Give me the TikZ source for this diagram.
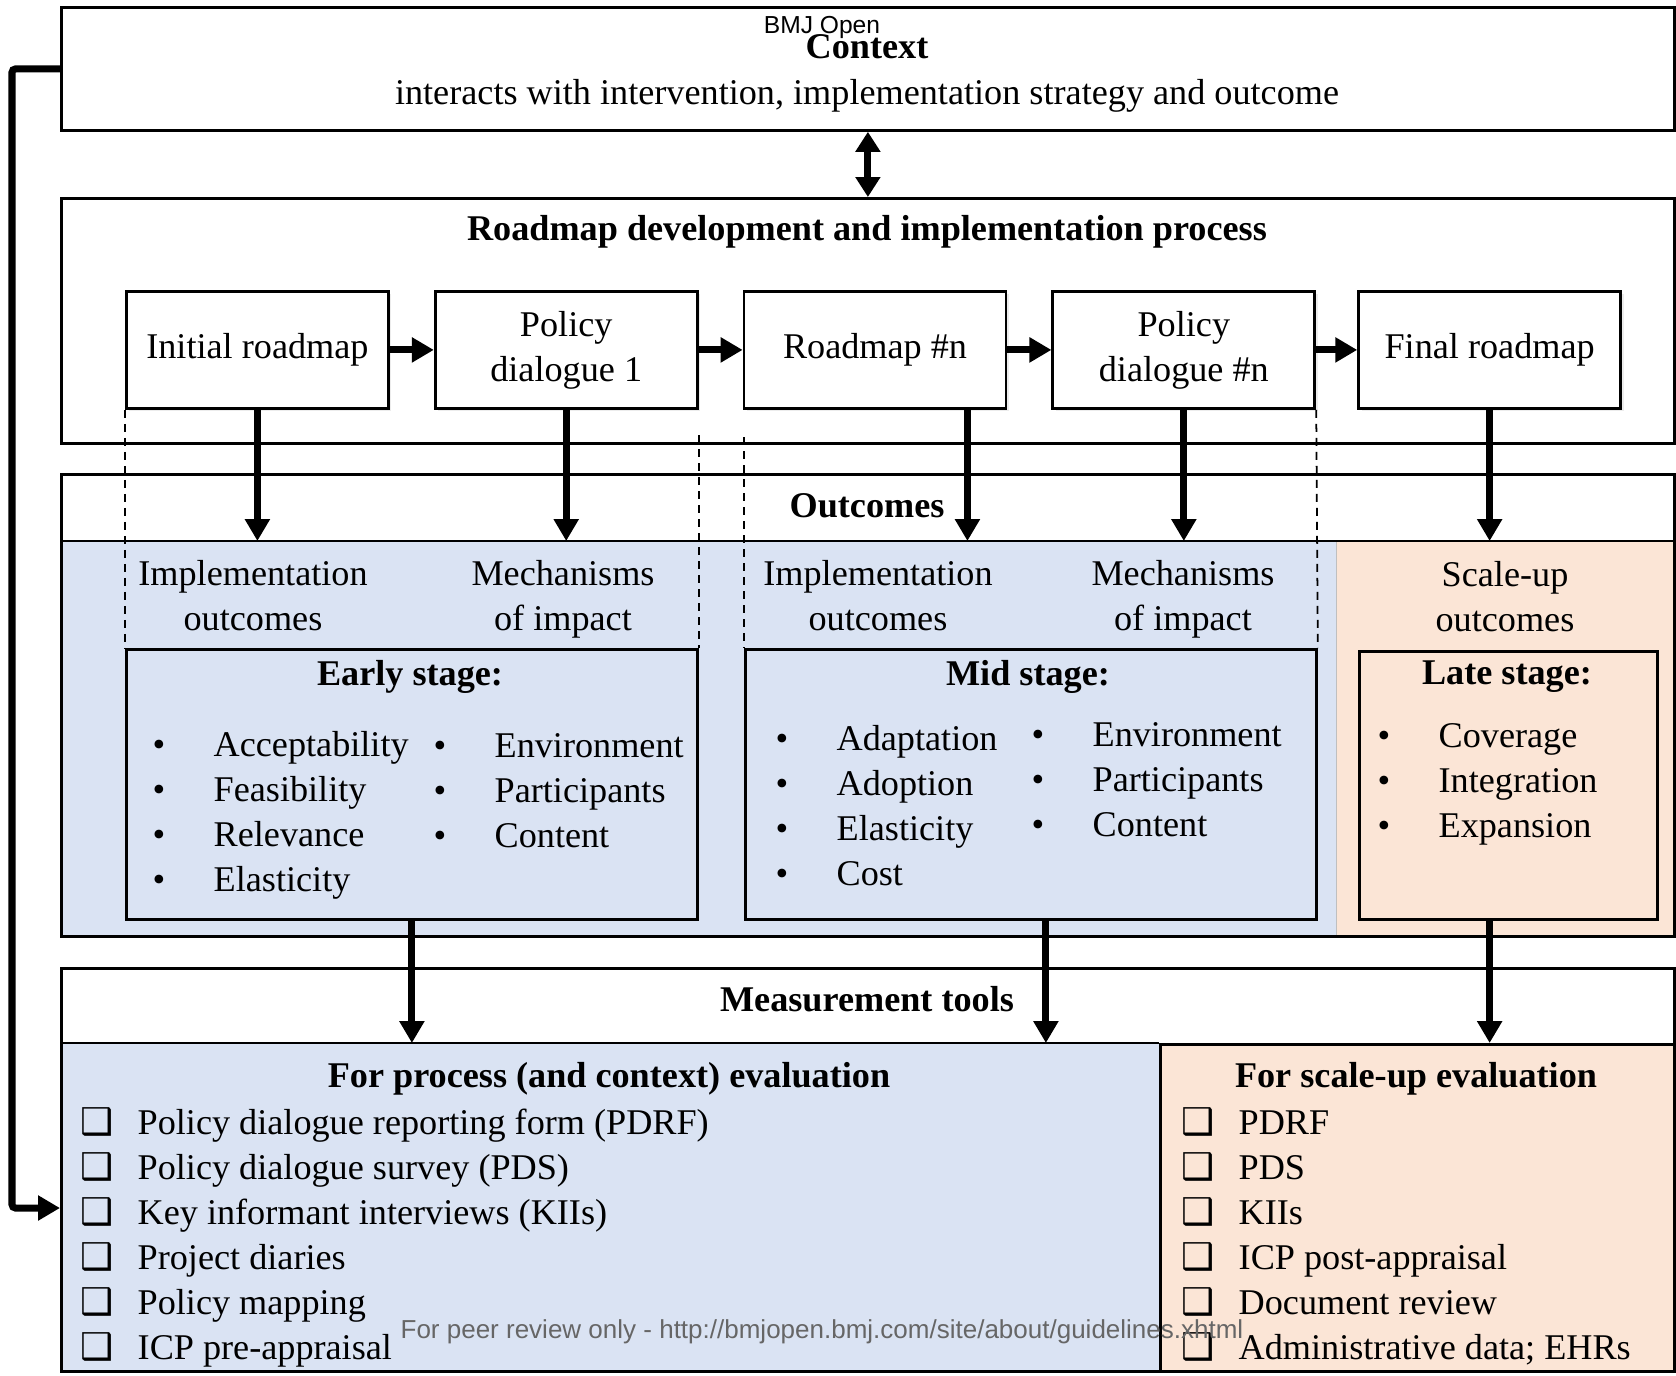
\documentclass[tikz,border=0pt]{standalone}
\usepackage{fontspec}
\setmainfont{Liberation Serif}
\newfontfamily\symfont{DejaVu Sans}
\newfontfamily\markfont{Liberation Sans}
\usepackage{xcolor}
\usetikzlibrary{arrows.meta,positioning,shadows}
\definecolor{outblue}{HTML}{DAE3F3}
\definecolor{outpeach}{HTML}{FBE5D6}
\newcommand{\bul}{\makebox[0.61cm][l]{•}}
\newcommand{\chk}{\makebox[0.57cm][l]{\symfont\fontsize{10.5}{12.8}\selectfont ❑}}

\begin{document}
\begin{tikzpicture}[font=\fontsize{10.3}{12.8}\selectfont,
frame/.style={draw,line width=0.8pt,inner sep=0pt,anchor=north west},
stepbox/.style={draw,line width=0.8pt,fill=white,minimum width=2.62cm,minimum height=1.17cm,align=center,inner sep=1pt,
  drop shadow={opacity=0.15,shadow xshift=0.03cm,shadow yshift=-0.03cm}},
head/.style={font=\fontsize{10.3}{12.8}\selectfont\bfseries},
fat/.style={line width=2pt,-{Triangle[length=0.22cm,width=0.24cm]}},
dbl/.style={line width=2pt,{Triangle[length=0.2cm,width=0.24cm]}-{Triangle[length=0.2cm,width=0.24cm]}},
guide/.style={line width=0.5pt,dash pattern=on 0.08cm off 0.06cm},
list/.style={align=left,inner sep=0pt,anchor=north west}]
\useasboundingbox (0,0) rectangle (16.76,-13.76);
\node[frame,minimum width=16.13cm,minimum height=1.23cm] (context) at (0.60,-0.06) {};
\node[frame,minimum width=16.13cm,minimum height=2.45cm] (process) at (0.60,-1.97) {};
\node[frame,fill=outblue,draw=none,minimum width=12.76cm,minimum height=3.94cm] (oblue) at (0.60,-5.41) {};
\node[frame,fill=outpeach,draw=gray!50,line width=0.4pt,minimum width=3.37cm,minimum height=3.94cm] (opeach) at (13.36,-5.41) {};
\node[frame,minimum width=16.13cm,minimum height=4.62cm] (outcomes) at (0.60,-4.73) {};
\draw[line width=0.8pt] (oblue.north west) -- (opeach.north east);
\node[frame,fill=outblue,draw=none,minimum width=10.99cm,minimum height=3.27cm] (mblue) at (0.60,-10.43) {};
\node[frame,fill=outpeach,minimum width=5.14cm,minimum height=3.27cm] (mpeach) at (11.59,-10.43) {};
\node[frame,minimum width=16.13cm,minimum height=4.03cm] (measure) at (0.60,-9.67) {};
\draw[line width=0.8pt] (mblue.north west) -- (mpeach.north west);
\node[frame,minimum width=5.71cm,minimum height=2.70cm] (early) at (1.25,-6.48) {};
\node[frame,minimum width=5.71cm,minimum height=2.70cm] (mid) at (7.44,-6.48) {};
\node[frame,minimum width=2.98cm,minimum height=2.68cm] (late) at (13.58,-6.50) {};
\node[stepbox,anchor=north west] (r1) at (1.25,-2.90) {Initial roadmap};
\node[stepbox,right=0.44cm of r1] (r2) {Policy\\dialogue 1};
\node[stepbox,right=0.44cm of r2] (r3) {Roadmap \#n};
\node[stepbox,right=0.44cm of r3] (r4) {Policy\\dialogue \#n};
\node[stepbox,right=0.41cm of r4] (r5) {Final roadmap};
\node[head] (ctxtitle) at (8.67,-0.47) {Context};
\node (ctxtext) at (8.67,-0.96) {interacts with intervention, implementation strategy and outcome};
\node[head] (proctitle) at (8.67,-2.32) {Roadmap development and implementation process};
\node[head] (outtitle) at (8.67,-5.06) {Outcomes};
\node[head] (meastitle) at (8.67,-9.99) {Measurement tools};
\node[align=center] (impl1) at (2.53,-5.96) {Implementation\\outcomes};
\node[align=center] (mech1) at (5.63,-5.99) {Mechanisms\\of impact};
\node[align=center] (impl2) at (8.78,-5.96) {Implementation\\outcomes};
\node[align=center] (mech2) at (11.83,-5.99) {Mechanisms\\of impact};
\node[align=center] (scale) at (15.05,-5.97) {Scale-up\\outcomes};
\node[head] (earlytitle) at (4.10,-6.77) {Early stage:};
\node[head] (midtitle) at (10.28,-6.77) {Mid stage:};
\node[head] (latetitle) at (15.07,-6.77) {Late stage:};
\node[list] (earlyA) at (1.52,-7.31) {\bul Acceptability\\\bul Feasibility\\\bul Relevance\\\bul Elasticity};
\node[list] (earlyB) at (4.33,-7.33) {\bul Environment\\\bul Participants\\\bul Content};
\node[list] (midA) at (7.75,-7.25) {\bul Adaptation\\\bul Adoption\\\bul Elasticity\\\bul Cost};
\node[list] (midB) at (10.31,-7.22) {\bul Environment\\\bul Participants\\\bul Content};
\node[list] (lateA) at (13.77,-7.23) {\bul Coverage\\\bul Integration\\\bul Expansion};
\node[head] (proctools) at (6.09,-10.79) {For process (and context) evaluation};
\node[head] (scaletools) at (14.16,-10.79) {For scale-up evaluation};
\node[list] (mlist) at (0.80,-11.07) {\chk Policy dialogue reporting form (PDRF)\\\chk Policy dialogue survey (PDS)\\\chk Key informant interviews (KIIs)\\\chk Project diaries\\\chk Policy mapping\\\chk ICP pre-appraisal};
\node[list] (slist) at (11.81,-11.07) {\chk PDRF\\\chk PDS\\\chk KIIs\\\chk ICP post-appraisal\\\chk Document review\\\chk Administrative data; EHRs};
\draw[guide] (r1.south west) -- (early.north west);
\coordinate (d2) at (early.north east |- 0,-4.35);
\draw[guide] (d2) -- (early.north east);
\coordinate (d3) at (mid.north west |- 0,-4.37);
\draw[guide] (d3) -- (mid.north west);
\draw[guide] (r4.south east) -- (mid.north east);
\draw[dbl] (context.south) -- (process.north);
\draw[fat] (r1) -- (r2);
\draw[fat] (r2) -- (r3);
\draw[fat] (r3) -- (r4);
\draw[fat] (r4) -- (r5);
\draw[fat] (r1.south) -- (r1.south |- oblue.north);
\draw[fat] (r2.south) -- (r2.south |- oblue.north);
\coordinate (a3) at ([xshift=-0.40cm]r3.south east);
\draw[fat] (a3) -- (a3 |- oblue.north);
\draw[fat] (r4.south) -- (r4.south |- oblue.north);
\draw[fat] (r5.south) -- (r5.south |- oblue.north);
\draw[fat] (early.south) -- (early.south |- mblue.north);
\coordinate (a7) at ([xshift=0.15cm]mid.south);
\draw[fat] (a7) -- (a7 |- mblue.north);
\draw[fat] (late.south -| r5.south) -- (r5.south |- mblue.north);
\coordinate (fb) at (0.12,0);
\coordinate (kin) at (mblue.west |- 0,-12.08);
\draw[fat,rounded corners=1pt] (context.west) -- (fb |- context.west) -- (fb |- kin) -- (kin);
\node[font=\markfont\fontsize{7}{8}\selectfont] (bmj) at (8.22,-0.27) {BMJ Open};
\node[font=\markfont\fontsize{7.4}{8}\selectfont,text=black!60] (peer) at (8.22,-13.32) {For peer review only - http://bmjopen.bmj.com/site/about/guidelines.xhtml};
\end{tikzpicture}
\end{document}
